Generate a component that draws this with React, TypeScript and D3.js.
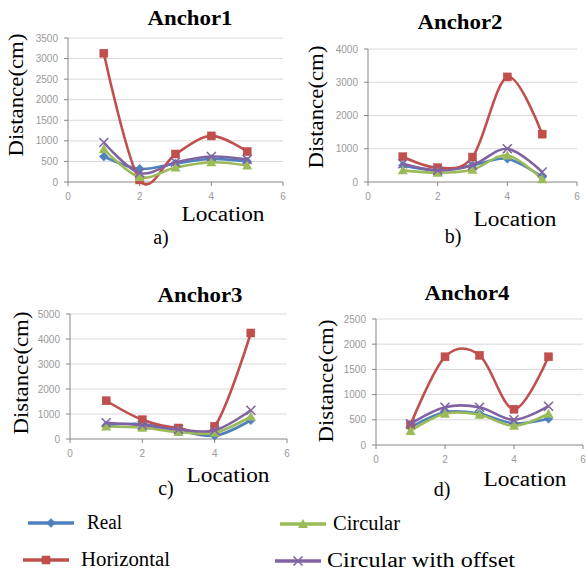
import * as d3 from 'd3';

// Data
const locations = [1, 2, 3, 4, 5];
const seriesNames = ['Real', 'Horizontal', 'Circular', 'Circular with offset'];
const seriesColors = ['#4F81BD', '#C0504D', '#9BBB59', '#8064A2'];
const seriesMarkers = ['diamond', 'square', 'triangle', 'cross'];

const anchor1Real = [620, 320, 450, 560, 500];
const anchor1Horizontal = [3130, 50, 680, 1120, 740];
const anchor1Circular = [800, 120, 350, 480, 400];
const anchor1Offset = [960, 220, 480, 620, 550];

const anchor2Real = [500, 350, 500, 700, 150];
const anchor2Horizontal = [760, 430, 750, 3160, 1440];
const anchor2Circular = [350, 280, 370, 800, 80];
const anchor2Offset = [550, 350, 500, 1000, 300];

const anchor3Real = [550, 600, 350, 130, 750];
const anchor3Horizontal = [1530, 770, 440, 510, 4240];
const anchor3Circular = [500, 450, 280, 250, 900];
const anchor3Offset = [650, 550, 380, 350, 1150];

const anchor4Real = [350, 650, 620, 430, 520];
const anchor4Horizontal = [400, 1750, 1780, 710, 1750];
const anchor4Circular = [280, 620, 600, 380, 620];
const anchor4Offset = [420, 750, 750, 500, 770];

const xTicks = [0, 2, 4, 6];

const panels = [
  {
    title: 'Anchor1', tag: 'a)', yMax: 3500, yStep: 500,
    series: [anchor1Real, anchor1Horizontal, anchor1Circular, anchor1Offset],
    x0: 68, x1: 283, y0: 182, y1: 38,
    titleXY: [190, 25], yLabXY: [23, 95], locXY: [223, 221], tagXY: [161, 244],
  },
  {
    title: 'Anchor2', tag: 'b)', yMax: 4000, yStep: 1000,
    series: [anchor2Real, anchor2Horizontal, anchor2Circular, anchor2Offset],
    x0: 368, x1: 577, y0: 182, y1: 49,
    titleXY: [460, 29], yLabXY: [323, 107], locXY: [515, 226], tagXY: [453, 243],
  },
  {
    title: 'Anchor3', tag: 'c)', yMax: 5000, yStep: 1000,
    series: [anchor3Real, anchor3Horizontal, anchor3Circular, anchor3Offset],
    x0: 70, x1: 287, y0: 439, y1: 314,
    titleXY: [200, 302], yLabXY: [28, 373], locXY: [228, 482], tagXY: [166, 495],
  },
  {
    title: 'Anchor4', tag: 'd)', yMax: 2500, yStep: 500,
    series: [anchor4Real, anchor4Horizontal, anchor4Circular, anchor4Offset],
    x0: 376, x1: 583, y0: 445, y1: 319,
    titleXY: [467, 300], yLabXY: [333, 381], locXY: [525, 486], tagXY: [442, 496],
  },
];

const serifStyle = { fontFamily: "'Liberation Serif', serif" };
const sansStyle = { fontFamily: "'Liberation Sans', sans-serif" };

function Marker({ type, x, y, color }: { type: string; x: number; y: number; color: string }) {
  const s = 4.5;
  if (type === 'diamond') {
    return <path d={`M${x},${y - s}L${x + s},${y}L${x},${y + s}L${x - s},${y}Z`} fill={color} stroke={color} strokeWidth={0.5} />;
  }
  if (type === 'square') {
    return <rect x={x - 4} y={y - 4} width={8} height={8} fill={color} stroke="#B84A47" strokeWidth={0.5} />;
  }
  if (type === 'triangle') {
    return <path d={`M${x},${y - 5}L${x + 5},${y + 4}L${x - 5},${y + 4}Z`} fill={color} />;
  }
  return (
    <path d={`M${x - 4.5},${y - 4.5}L${x + 4.5},${y + 4.5}M${x - 4.5},${y + 4.5}L${x + 4.5},${y - 4.5}`} stroke={color} strokeWidth={1.6} fill="none" />
  );
}

function Panel({ p }: { p: typeof panels[number] }) {
  const x = d3.scaleLinear().domain([0, 6]).range([p.x0, p.x1]);
  const y = d3.scaleLinear().domain([0, p.yMax]).range([p.y0, p.y1]);
  const yTicks = d3.range(0, p.yMax + 1, p.yStep);
  const line = d3
    .line<number>()
    .x((_, i) => x(locations[i]))
    .y((d) => y(d))
    .curve(d3.curveCardinal.tension(0));

  return (
    <g>
      {yTicks.map((t) => (
        <g key={t}>
          {t > 0 && <line x1={p.x0} x2={p.x1} y1={y(t)} y2={y(t)} stroke="#D9D9D9" strokeWidth={1} />}
          <line x1={p.x0 - 4} x2={p.x0} y1={y(t)} y2={y(t)} stroke="#868686" />
          <text x={p.x0 - 10} y={y(t) + 3.5} textAnchor="end" style={sansStyle} fontSize={10} fill="#999">
            {t}
          </text>
        </g>
      ))}
      <line x1={p.x0} x2={p.x0} y1={p.y0} y2={p.y1} stroke="#868686" />
      <line x1={p.x0} x2={p.x1} y1={p.y0} y2={p.y0} stroke="#868686" />
      {xTicks.map((t) => (
        <g key={t}>
          <line x1={x(t)} x2={x(t)} y1={p.y0} y2={p.y0 + 4} stroke="#868686" />
          <text x={x(t)} y={p.y0 + 18} textAnchor="middle" style={sansStyle} fontSize={10} fill="#999">
            {t}
          </text>
        </g>
      ))}
      {p.series.map((vals, si) => (
        <g key={si}>
          <path d={line(vals) ?? ''} fill="none" stroke={seriesColors[si]} strokeWidth={2.6} />
          {vals.map((v, i) => (
            <Marker key={i} type={seriesMarkers[si]} x={x(locations[i])} y={y(v)} color={seriesColors[si]} />
          ))}
        </g>
      ))}
      <text
        x={p.titleXY[0]}
        y={p.titleXY[1]}
        textAnchor="middle"
        style={serifStyle}
        fontWeight="bold"
        fontSize={20}
        textLength={85}
        lengthAdjust="spacingAndGlyphs"
      >
        {p.title}
      </text>
      <text
        transform={`translate(${p.yLabXY[0]},${p.yLabXY[1]}) rotate(-90)`}
        textAnchor="middle"
        style={serifStyle}
        fontSize={20}
        textLength={123}
        lengthAdjust="spacingAndGlyphs"
      >
        Distance(cm)
      </text>
      <text
        x={p.locXY[0]}
        y={p.locXY[1]}
        textAnchor="middle"
        style={serifStyle}
        fontSize={20}
        textLength={83}
        lengthAdjust="spacingAndGlyphs"
      >
        Location
      </text>
      <text x={p.tagXY[0]} y={p.tagXY[1]} textAnchor="middle" style={serifStyle} fontSize={20}>
        {p.tag}
      </text>
    </g>
  );
}

const legendPos = [
  { lx: 28, ly: 523, tx: 87, w: 35 },
  { lx: 23, ly: 560, tx: 81, w: 89 },
  { lx: 280, ly: 524, tx: 333, w: 67 },
  { lx: 275, ly: 561, tx: 327, w: 188 },
];

export default function App() {
  return (
    <svg width={586} height={574} style={{ position: 'absolute', left: 0, top: 0, background: '#fff' }}>
      <rect width={586} height={574} fill="#fff" />
      {panels.map((p) => (
        <Panel key={p.title} p={p} />
      ))}
      {seriesNames.map((name, i) => {
        const lp = legendPos[i];
        return (
          <g key={name}>
            <line x1={lp.lx} x2={lp.lx + 46} y1={lp.ly} y2={lp.ly} stroke={seriesColors[i]} strokeWidth={3.5} />
            <Marker type={seriesMarkers[i]} x={lp.lx + 23} y={lp.ly} color={seriesColors[i]} />
            <text
              x={lp.tx}
              y={lp.ly + 6}
              style={serifStyle}
              fontSize={20}
              textLength={lp.w}
              lengthAdjust="spacingAndGlyphs"
            >
              {name}
            </text>
          </g>
        );
      })}
    </svg>
  );
}
